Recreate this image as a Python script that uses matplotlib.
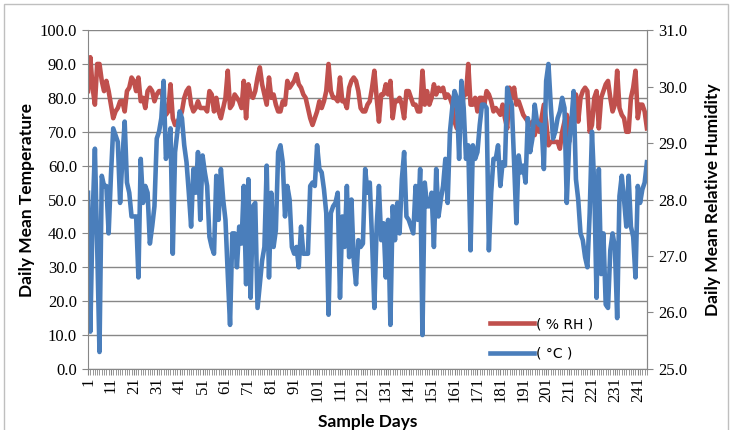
import matplotlib.pyplot as plt
from matplotlib.patches import Rectangle
from matplotlib.ticker import MultipleLocator, FormatStrFormatter

# daily values (days 1..245)
days = list(range(1, 246))

temp_c = [
    52, 11, 45, 65, 36, 5, 57, 54, 54, 40,
    57, 71, 69, 67, 49, 62, 73, 55, 52, 45,
    45, 45, 27, 62, 49, 54, 52, 37, 42, 48,
    68, 70, 74, 85, 62, 65, 71, 34, 64, 70,
    76, 74, 66, 61, 52, 42, 59, 52, 64, 44,
    63, 58, 54, 39, 36, 34, 57, 44, 59, 50,
    44, 28, 13, 40, 40, 30, 42, 37, 54, 25,
    56, 21, 48, 49, 18, 25, 32, 36, 60, 27,
    52, 36, 41, 64, 66, 61, 45, 54, 50, 36,
    34, 36, 30, 42, 34, 34, 34, 54, 55, 54,
    66, 59, 58, 53, 46, 16, 46, 48, 49, 52,
    21, 45, 36, 54, 33, 50, 32, 25, 38, 36,
    37, 59, 52, 55, 38, 18, 42, 54, 38, 43,
    27, 44, 13, 48, 38, 49, 40, 56, 64, 45,
    44, 42, 40, 54, 44, 59, 10, 55, 48, 48,
    52, 36, 59, 45, 50, 54, 62, 49, 70, 77,
    82, 80, 62, 85, 77, 62, 66, 35, 66, 62,
    64, 72, 78, 78, 77, 35, 52, 62, 62, 66,
    54, 61, 60, 83, 80, 78, 61, 43, 63, 58,
    60, 55, 74, 64, 68, 78, 73, 72, 72, 59,
    85, 90, 78, 68, 70, 74, 76, 80, 77, 49,
    66, 73, 82, 56, 50, 40, 38, 33, 30, 46,
    70, 54, 21, 59, 28, 40, 19, 18, 35, 40,
    36, 15, 51, 57, 50, 42, 57, 42, 39, 27,
    54, 49, 53, 55, 61,
]

rh_pct = [
    82, 92, 83, 78, 90, 90, 85, 82, 85, 82,
    78, 74, 76, 77, 79, 79, 76, 82, 83, 86,
    85, 82, 86, 79, 80, 77, 82, 83, 82, 79,
    81, 82, 82, 79, 75, 76, 84, 74, 72, 73,
    74, 76, 80, 82, 83, 78, 76, 77, 79, 77,
    77, 77, 76, 82, 81, 76, 80, 76, 74, 77,
    80, 88, 77, 78, 81, 80, 79, 77, 85, 74,
    84, 81, 80, 82, 86, 89, 84, 81, 78, 86,
    80, 81, 78, 76, 76, 79, 78, 85, 83, 84,
    85, 87, 84, 83, 81, 80, 77, 74, 72, 74,
    76, 79, 77, 79, 82, 90, 82, 80, 80, 79,
    86, 79, 79, 77, 83, 85, 86, 85, 82, 77,
    76, 76, 78, 79, 83, 88, 80, 73, 81, 81,
    84, 81, 85, 74, 79, 79, 80, 78, 74, 82,
    82, 80, 78, 78, 76, 76, 88, 78, 82, 78,
    80, 84, 81, 83, 82, 83, 80, 81, 80, 78,
    73, 71, 71, 76, 81, 81, 90, 78, 78, 80,
    76, 80, 80, 78, 82, 81, 79, 76, 77, 76,
    75, 78, 74, 71, 83, 80, 83, 78, 79, 77,
    75, 74, 73, 72, 73, 69, 73, 70, 74, 78,
    73, 66, 67, 67, 67, 67, 65, 70, 73, 75,
    67, 74, 76, 81, 73, 80, 82, 83, 82, 70,
    72, 80, 82, 71, 80, 82, 84, 85, 80, 76,
    78, 88, 77, 75, 74, 70, 70, 80, 83, 88,
    74, 78, 78, 76, 71,
]

x_tick_days = list(range(1, 242, 10))

RED = '#C0504D'
BLUE = '#4A7EBB'
GRID = '#878787'
TICK_FONT = 'Liberation Serif'
TITLE_FONT = 'Lato'

fig = plt.figure(figsize=(7.36, 4.30), dpi=100)
ax = fig.add_axes([0.1196, 0.142, 0.7594, 0.788])

ax.plot(days, rh_pct, color=RED, lw=3.3, label='( % RH )', solid_joinstyle='round')
ax.plot(days, temp_c, color=BLUE, lw=3.3, label='( \u00b0C )', solid_joinstyle='round')

ax.set_xlim(1, 245)
ax.set_ylim(0, 100)
ax.yaxis.set_major_locator(MultipleLocator(10))
ax.yaxis.set_major_formatter(FormatStrFormatter('%.1f'))
ax.set_xticks(x_tick_days)
ax.set_xticklabels([str(d) for d in x_tick_days], rotation=90)
ax.xaxis.set_minor_locator(MultipleLocator(1))
ax.grid(axis='y', color=GRID, lw=1.0)
ax.set_axisbelow(True)

ax.spines['top'].set_visible(False)
for side in ['left', 'right', 'bottom']:
    ax.spines[side].set_color(GRID)
ax.tick_params(axis='both', which='both', color=GRID, direction='out')
ax.tick_params(axis='x', which='major', length=4, pad=2)
ax.tick_params(axis='x', which='minor', length=4)
ax.tick_params(axis='y', length=4, pad=4)
for lab in ax.get_xticklabels() + ax.get_yticklabels():
    lab.set_fontfamily(TICK_FONT)
    lab.set_fontsize(12)

ax2 = ax.twinx()
ax2.set_ylim(25, 31)
ax2.yaxis.set_major_locator(MultipleLocator(1))
ax2.yaxis.set_major_formatter(FormatStrFormatter('%.1f'))
for side in ['top', 'left', 'bottom']:
    ax2.spines[side].set_visible(False)
ax2.spines['right'].set_color(GRID)
ax2.tick_params(axis='y', color=GRID, length=4, pad=4)
for lab in ax2.get_yticklabels():
    lab.set_fontfamily(TICK_FONT)
    lab.set_fontsize(12)

ax.set_ylabel('Daily Mean Temperature', fontfamily=TITLE_FONT, fontweight='bold',
              fontsize=12.5, labelpad=3)
ax2.set_ylabel('Daily Mean Relative Humidity', fontfamily=TITLE_FONT, fontweight='bold',
               fontsize=12.5, labelpad=13)
ax.set_xlabel('Sample Days', fontfamily=TITLE_FONT, fontweight='bold',
              fontsize=12.5, labelpad=8)

leg = ax.legend(loc='lower left', bbox_to_anchor=(0.72, 0.025), frameon=False,
                handlelength=3.1, handletextpad=0.15, labelspacing=1.1,
                borderaxespad=0, borderpad=0,
                prop={'family': 'DejaVu Sans', 'size': 10})

fig.patches.append(Rectangle((4 / 736, -0.01), 724 / 736, 1.0, transform=fig.transFigure,
                             fill=False, edgecolor='#BFBFBF', lw=1.0))

fig.savefig('out.png', dpi=100)
